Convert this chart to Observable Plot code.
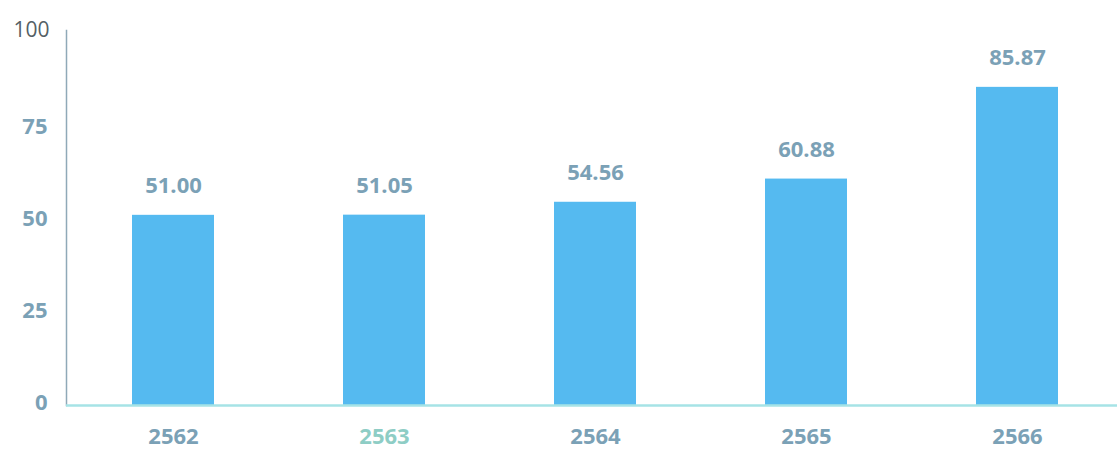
<!DOCTYPE html>
<html>
<head>
<meta charset="utf-8">
<script src="https://cdn.jsdelivr.net/npm/d3@7"></script>
<script src="https://cdn.jsdelivr.net/npm/@observablehq/plot@0.6"></script>
<style>
  html, body { margin: 0; padding: 0; background: #fff; }
  #chart svg { display: block; }
</style>
</head>
<body>
<div id="chart"></div>
<script>
const years = ["2562", "2563", "2564", "2565", "2566"];
const values = [51.00, 51.05, 54.56, 60.88, 85.87];
const labels = ["51.00", "51.05", "54.56", "60.88", "85.87"];
const yTicks = [0, 25, 50, 75, 100];

const data = years.map((y, i) => ({year: y, value: values[i], label: labels[i]}));

const font = "'Open Sans', Lato, sans-serif";
const textColor = "#7ba1b6";

const chart = Plot.plot({
  width: 1117,
  height: 449,
  marginLeft: 66,
  marginRight: 0,
  marginTop: 30,
  marginBottom: 44,
  style: {fontFamily: font, background: "#fff"},
  x: {domain: years, range: [66, 1124], paddingInner: 0.613, paddingOuter: 0.3065, axis: null},
  y: {domain: [0, 100], range: [402, 35], axis: null},
  marks: [
    Plot.barY(data, {x: "year", y: "value", fill: "#55baf0", insetBottom: -3}),
    Plot.frame({anchor: "left", stroke: "#8fa9b8", strokeWidth: 1.5}),
    Plot.ruleY([0], {stroke: "#a6e3e6", strokeWidth: 2.5, dy: 3}),
    Plot.text(data, {x: "year", y: "value", text: "label", dy: -29, fill: textColor, fontSize: 22, fontWeight: "bold"}),
    Plot.text(yTicks.filter(d => d !== 100), {y: d => d, text: d => String(d), frameAnchor: "left", dx: -19, textAnchor: "end",
      fill: textColor, fontSize: 22, fontWeight: "bold"}),
    Plot.text(yTicks.filter(d => d === 100), {y: d => d, text: d => String(d), frameAnchor: "left", dx: -17, dy: -5, textAnchor: "end",
      fill: "#555f66", fontSize: 21}),
    Plot.text(years, {x: d => d, text: d => d, frameAnchor: "bottom", dy: 38,
      fill: d => d === "2563" ? "#8ecdc5" : textColor, fontSize: 22, fontWeight: "bold"})
  ]
});
document.getElementById("chart").appendChild(chart);
</script>
</body>
</html>
